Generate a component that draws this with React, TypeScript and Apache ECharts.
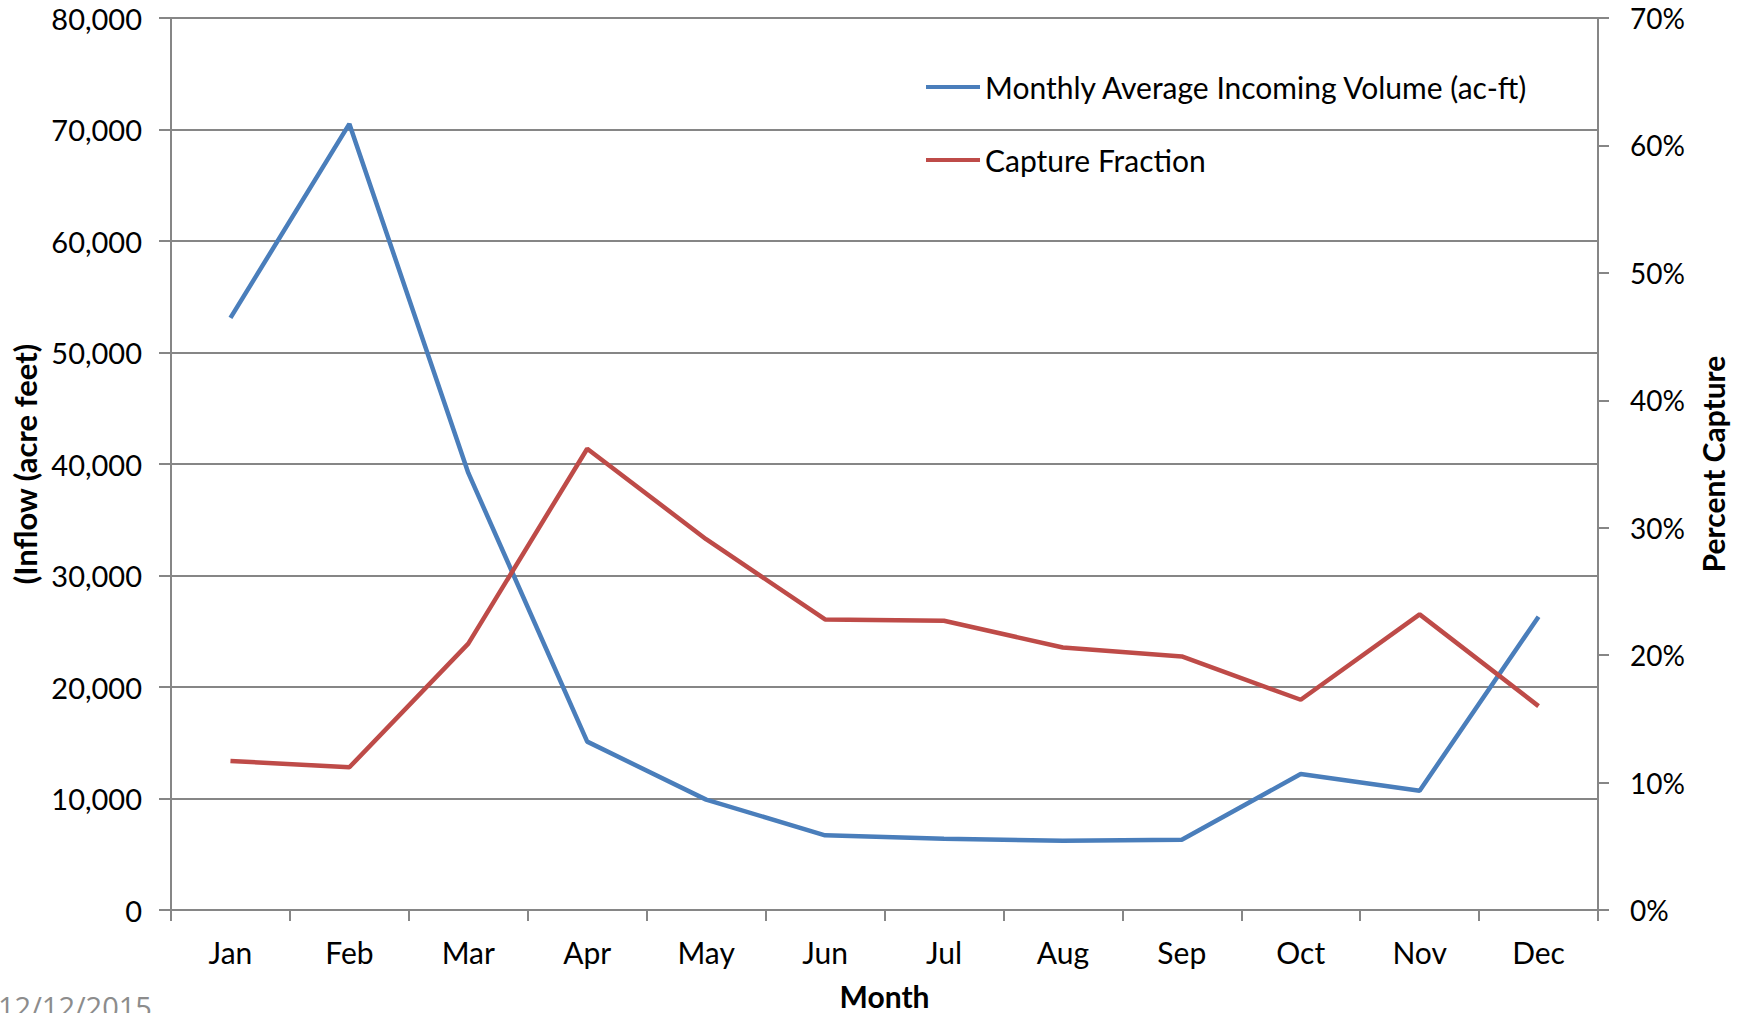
import React, { useEffect, useRef } from "react";
import * as echarts from "echarts";

const months = ["Jan", "Feb", "Mar", "Apr", "May", "Jun", "Jul", "Aug", "Sep", "Oct", "Nov", "Dec"];
const inflowVolume = [53100, 70500, 39200, 15100, 9900, 6700, 6400, 6200, 6300, 12200, 10700, 26300];
const captureFraction = [11.7, 11.2, 20.9, 36.2, 29.1, 22.8, 22.7, 20.6, 19.9, 16.5, 23.2, 16.0];

const seriesNames = ["Monthly Average Incoming Volume (ac-ft)", "Capture Fraction"];
const leftAxisTitle = "(Inflow (acre feet)";
const rightAxisTitle = "Percent Capture";
const xAxisTitle = "Month";
const dateStamp = "12/12/2015";

const FONT = "Lato, 'Open Sans', sans-serif";
const AXIS_GRAY = "#868686";
const BLUE = "#4A7EBB";
const RED = "#BE4B48";

export default function App() {
  const ref = useRef<HTMLDivElement>(null);

  useEffect(() => {
    document.body.style.margin = "0";
    if (!ref.current) return;
    const chart = echarts.init(ref.current, undefined, { renderer: "svg" });
    const nameStyle = { color: "#000", fontSize: 30, fontFamily: FONT, fontWeight: "bold" as const };
    const legendText = { color: "#000", fontSize: 30, fontFamily: FONT };
    chart.setOption({
      animation: false,
      backgroundColor: "#fff",
      grid: {
        left: 171,
        right: 144,
        top: 18,
        bottom: 103,
        containLabel: false,
        outerBoundsMode: "none",
      },
      legend: [
        {
          data: [seriesNames[0]],
          left: 926,
          top: 72,
          padding: 0,
          icon: "rect",
          itemWidth: 54,
          itemHeight: 4,
          itemGap: 0,
          textStyle: legendText,
        },
        {
          data: [seriesNames[1]],
          left: 926,
          top: 145,
          padding: 0,
          icon: "rect",
          itemWidth: 54,
          itemHeight: 4,
          itemGap: 0,
          textStyle: legendText,
        },
      ],
      xAxis: {
        type: "category",
        data: months,
        boundaryGap: true,
        name: xAxisTitle,
        nameLocation: "middle",
        nameGap: 71,
        nameTextStyle: { ...nameStyle, lineHeight: 30 },
        axisLine: { show: true, lineStyle: { color: AXIS_GRAY, width: 2 } },
        axisTick: { show: true, length: 11, lineStyle: { color: AXIS_GRAY, width: 2 } },
        axisLabel: { color: "#000", fontSize: 30, fontFamily: FONT, margin: 27 },
        splitLine: { show: false },
      },
      yAxis: [
        {
          type: "value",
          min: 0,
          max: 80000,
          interval: 10000,
          position: "left",
          name: leftAxisTitle,
          nameLocation: "middle",
          nameRotate: 90,
          nameGap: 128,
          nameTextStyle: { ...nameStyle, fontSize: 31 },
          axisLine: { show: true, lineStyle: { color: AXIS_GRAY, width: 2 } },
          axisTick: { show: true, length: 12, lineStyle: { color: AXIS_GRAY, width: 2 } },
          axisLabel: {
            color: "#000",
            fontSize: 29,
            fontFamily: FONT,
            margin: 29,
            formatter: (v: number) => v.toLocaleString("en-US"),
          },
          splitLine: { show: true, lineStyle: { color: AXIS_GRAY, width: 2 } },
        },
        {
          type: "value",
          min: 0,
          max: 70,
          interval: 10,
          position: "right",
          name: rightAxisTitle,
          nameLocation: "middle",
          nameRotate: 90,
          nameGap: 100,
          nameTextStyle: nameStyle,
          axisLine: { show: true, lineStyle: { color: AXIS_GRAY, width: 2 } },
          axisTick: { show: true, length: 11, lineStyle: { color: AXIS_GRAY, width: 2 } },
          axisLabel: { color: "#000", fontSize: 28, fontFamily: FONT, margin: 32, formatter: "{value}%" },
          splitLine: { show: false },
        },
      ],
      series: [
        {
          name: seriesNames[0],
          type: "line",
          yAxisIndex: 0,
          data: inflowVolume,
          symbol: "none",
          lineStyle: { color: BLUE, width: 4.5 },
          itemStyle: { color: BLUE },
        },
        {
          name: seriesNames[1],
          type: "line",
          yAxisIndex: 1,
          data: captureFraction,
          symbol: "none",
          lineStyle: { color: RED, width: 4.5 },
          itemStyle: { color: RED },
        },
      ],
      graphic: [
        {
          type: "text",
          left: -2,
          top: 992,
          style: { text: dateStamp, fontSize: 29, fontFamily: "'Open Sans', sans-serif", fill: "#8c8c8c" },
        },
      ],
    });
    return () => chart.dispose();
  }, []);

  return <div ref={ref} style={{ width: 1742, height: 1013 }} />;
}
